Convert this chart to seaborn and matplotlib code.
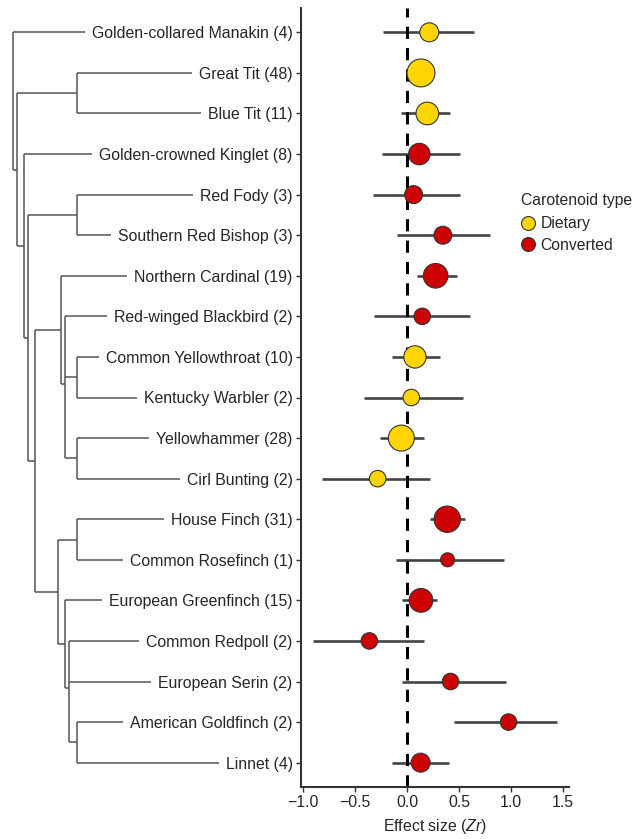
import numpy as np
import pandas as pd
import matplotlib
matplotlib.use("Agg")
import matplotlib.pyplot as plt
from matplotlib.lines import Line2D
import seaborn as sns

# data
species = ["Golden-collared Manakin", "Great Tit", "Blue Tit", "Golden-crowned Kinglet",
           "Red Fody", "Southern Red Bishop", "Northern Cardinal", "Red-winged Blackbird",
           "Common Yellowthroat", "Kentucky Warbler", "Yellowhammer", "Cirl Bunting",
           "House Finch", "Common Rosefinch", "European Greenfinch", "Common Redpoll",
           "European Serin", "American Goldfinch", "Linnet"]
n_studies = [4, 48, 11, 8, 3, 3, 19, 2, 10, 2, 28, 2, 31, 1, 15, 2, 2, 2, 4]
effect = [0.215, 0.135, 0.196, 0.119, 0.064, 0.346, 0.276, 0.147, 0.077, 0.042,
          -0.054, -0.282, 0.388, 0.391, 0.135, -0.362, 0.42, 0.978, 0.132]
ci_low = [-0.234, 0.04, -0.06, -0.24, -0.33, -0.093, 0.10, -0.317, -0.141, -0.41,
          -0.26, -0.82, 0.224, -0.106, -0.045, -0.90, -0.051, 0.452, -0.144]
ci_high = [0.645, 0.23, 0.417, 0.51, 0.51, 0.80, 0.48, 0.606, 0.314, 0.54,
           0.163, 0.221, 0.554, 0.93, 0.292, 0.167, 0.958, 1.449, 0.407]
carotenoid = ["Dietary", "Dietary", "Dietary", "Converted", "Converted", "Converted",
              "Converted", "Converted", "Dietary", "Dietary", "Dietary", "Dietary",
              "Converted", "Converted", "Converted", "Converted", "Converted",
              "Converted", "Converted"]

# phylogeny: internal node -> (depth, children)
tree = {
    "root": (12.7, ["Golden-collared Manakin", "A"]),
    "A": (16.7, ["tits", "B"]),
    "tits": (76.7, ["Great Tit", "Blue Tit"]),
    "B": (24, ["Golden-crowned Kinglet", "C"]),
    "C": (27.7, ["weavers", "E"]),
    "weavers": (76.7, ["Red Fody", "Southern Red Bishop"]),
    "E": (35, ["F", "I"]),
    "F": (61, ["Northern Cardinal", "G"]),
    "G": (65, ["Red-winged Blackbird", "warblers", "buntings"]),
    "warblers": (76.7, ["Common Yellowthroat", "Kentucky Warbler"]),
    "buntings": (76.7, ["Yellowhammer", "Cirl Bunting"]),
    "I": (58.3, ["rosefinches", "J"]),
    "rosefinches": (76.7, ["House Finch", "Common Rosefinch"]),
    "J": (65, ["European Greenfinch", "K"]),
    "K": (69, ["Common Redpoll", "European Serin", "goldfinches"]),
    "goldfinches": (76.7, ["American Goldfinch", "Linnet"]),
}

df = pd.DataFrame({"species": species, "n": n_studies, "effect": effect,
                   "low": ci_low, "high": ci_high, "type": carotenoid})
df["row"] = np.arange(len(df))
df["label"] = [f"{s} ({n})" for s, n in zip(species, n_studies)]

sns.set_style("ticks")
plt.rcParams["font.family"] = ["Liberation Sans", "DejaVu Sans"]
plt.rcParams["mathtext.fontset"] = "custom"
plt.rcParams["mathtext.it"] = "Liberation Sans:italic"
plt.rcParams["mathtext.rm"] = "Liberation Sans"
FS = 11.4

W, H = 636, 839
fig = plt.figure(figsize=(W / 100, H / 100), dpi=100)
left_px, right_px, top_px, bot_px = 301, 569, 8, 787
ax = fig.add_axes([left_px / W, 1 - bot_px / H, (right_px - left_px) / W, (bot_px - top_px) / H])
ax_tree = fig.add_axes([0, 1 - bot_px / H, left_px / W, (bot_px - top_px) / H])

palette = {"Dietary": "#FFD500", "Converted": "#CC0000"}
# marker radius grows with log(number of effect sizes)
size_map = {n: (2 * (7 + 1.8 * np.log(n)) * 0.72) ** 2 for n in sorted(set(n_studies))}

ax.hlines(df["row"], df["low"], df["high"], color="#444444", lw=1.9, zorder=1)
ax.axvline(0, color="black", lw=2.2, ls=(0, (4, 3)), zorder=2)
sns.scatterplot(data=df, x="effect", y="row", hue="type", palette=palette,
                size="n", sizes=size_map, edgecolor="#333333", linewidth=0.8,
                legend=False, zorder=3, ax=ax)

ax.set_ylim(len(df) - 0.4, -0.6)
ax.set_xlim(-1.02, 1.56)
ax.set_yticks(df["row"])
ax.set_yticklabels(df["label"], fontsize=FS)
ax.set_xticks([-1.0, -0.5, 0.0, 0.5, 1.0, 1.5])
ax.set_xticklabels(["\u22121.0", "\u22120.5", "0.0", "0.5", "1.0", "1.5"], fontsize=FS)
ax.set_xlabel("Effect size ($\\mathit{Zr}$)", fontsize=FS, labelpad=5)
ax.set_ylabel("")
sns.despine(ax=ax)
for sp in ["left", "bottom"]:
    ax.spines[sp].set_color("#333333")
    ax.spines[sp].set_linewidth(1.5)
ax.tick_params(length=3.5, width=1, color="#333333", pad=2.5)

handles = [Line2D([], [], marker="o", ls="", markersize=10, markerfacecolor=palette[k],
                  markeredgecolor="#333333", markeredgewidth=0.8) for k in palette]
leg = fig.legend(handles, list(palette), title="Carotenoid type", loc="upper left",
                 bbox_to_anchor=(521 / W, 1 - 193 / H), frameon=False, fontsize=11.3,
                 title_fontsize=11.3, handletextpad=0.35, labelspacing=0.4,
                 borderpad=0, borderaxespad=0, handlelength=0.9)
leg._legend_box.align = "left"
leg._legend_box.sep = 6

# tree drawn in pixel units, tips stop just before their labels
ax_tree.set_xlim(0, left_px)
ax_tree.set_ylim(ax.get_ylim())
ax_tree.axis("off")
fig.canvas.draw()
inv = ax_tree.transData.inverted()
tip_x = {}
for lab, s in zip(ax.get_yticklabels(), species):
    bb = lab.get_window_extent()
    tip_x[s] = inv.transform((bb.x0, 0))[0] - 7
row_of = dict(zip(species, df["row"]))
tree_kw = dict(color="#555555", lw=1.1, solid_capstyle="butt")


def draw(node):
    depth, kids = tree[node]
    ys = []
    for k in kids:
        if k in tree:
            ky, kx = draw(k), tree[k][0]
        else:
            ky, kx = row_of[k], tip_x[k]
        ax_tree.plot([depth, kx], [ky, ky], **tree_kw)
        ys.append(ky)
    ax_tree.plot([depth, depth], [min(ys), max(ys)], **tree_kw)
    return float(np.mean(ys))


draw("root")

fig.savefig("out.png", dpi=100)
